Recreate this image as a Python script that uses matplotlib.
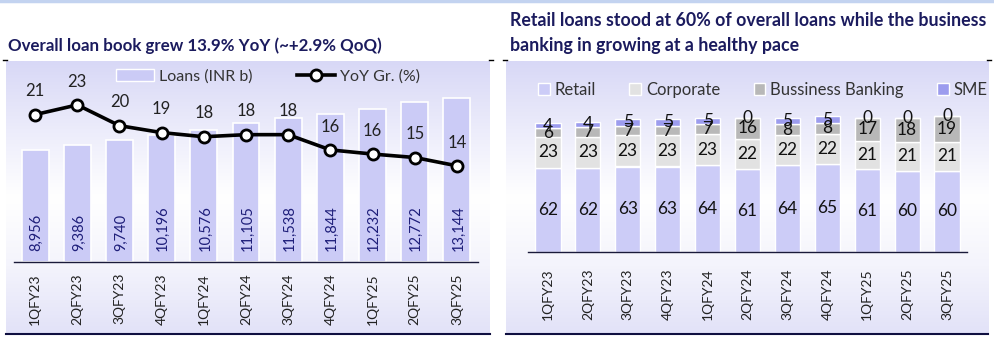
import numpy as np
import matplotlib.pyplot as plt
from matplotlib.colors import LinearSegmentedColormap
from matplotlib.lines import Line2D
from matplotlib.patches import Patch

plt.rcParams['font.family'] = ['Lato', 'DejaVu Sans']

# ---- Datos ----
trimestres = ['1QFY23', '2QFY23', '3QFY23', '4QFY23', '1QFY24', '2QFY24',
              '3QFY24', '4QFY24', '1QFY25', '2QFY25', '3QFY25']
prestamos = [8956, 9386, 9740, 10196, 10576, 11105, 11538, 11844, 12232, 12772, 13144]
crec_yoy = [21.3, 22.7, 19.7, 18.7, 18.1, 18.4, 18.4, 16.2, 15.6, 15.1, 13.9]

retail = [62, 62, 63, 63, 64, 61, 64, 65, 61, 60, 60]
corporate = [23, 23, 23, 23, 23, 22, 22, 22, 21, 21, 21]
bus_banking = [6, 7, 7, 7, 7, 16, 8, 8, 17, 18, 19]
sme = [4, 4, 5, 5, 5, 0, 5, 5, 0, 0, 0]

W, H = 994, 337
fig = plt.figure(figsize=(W / 100, H / 100), dpi=100)
fig.patch.set_facecolor('white')

def caja(x0, y0, x1, y1):
    # convierte pixeles (origen arriba-izquierda) a fraccion de figura
    return [x0 / W, 1 - y1 / H, (x1 - x0) / W, (y1 - y0) / H]

navy = '#1B1B5E'
cmap_fondo = LinearSegmentedColormap.from_list(
    'fondo', ['#D8D8F6', '#ECECFB', '#FFFFFF', '#F4F4FC', '#E2E2F8'])
grad = np.linspace(0, 1, 256).reshape(-1, 1)

# franja azul superior
fig.add_artist(plt.Line2D([0, 1], [1 - 1 / H, 1 - 1 / H], color='#C3D3F0', lw=2.5))

# ---- fondos con degradado ----
for x0, x1 in [(6, 490), (506, 988)]:
    axf = fig.add_axes(caja(x0, 61, x1, 334), zorder=0)
    axf.imshow(grad, aspect='auto', cmap=cmap_fondo, extent=[0, 1, 0, 1], origin='upper')
    axf.axis('off')
    # marcas en las esquinas y linea inferior
    fig.add_artist(plt.Line2D([(x0 - 3) / W, (x0 + 1) / W], [1 - 60 / H] * 2, color='black', lw=1))
    fig.add_artist(plt.Line2D([(x1 - 1) / W, (x1 + 3) / W], [1 - 60 / H] * 2, color='black', lw=1))
    fig.add_artist(plt.Line2D([x0 / W, x1 / W], [1 - 334 / H] * 2, color='#0F0F40', lw=1.5))

# ---- Grafico izquierdo ----
x = np.arange(len(trimestres))
ax1 = fig.add_axes(caja(14, 62, 478, 262), zorder=2)
ax1.set_facecolor('none')
barras = ax1.bar(x, prestamos, width=0.64, color='#CBCBF6', edgecolor='white', linewidth=1.2)
ax1.set_xlim(-0.5, len(x) - 0.5)
ax1.set_ylim(0, 16000)
for i, v in enumerate(prestamos):
    ax1.annotate(f'{v:,}', (i, 0), xytext=(1, 8), textcoords='offset points',
                 rotation=90, ha='center', va='bottom', fontsize=10.5, color='#1E1E7A')
ax1.set_xticks(x)
ax1.set_xticklabels(trimestres, rotation=90, fontsize=10, color='#222222')
ax1.tick_params(axis='x', length=0, pad=8)
ax1.set_yticks([])
for s in ['top', 'right', 'left']:
    ax1.spines[s].set_visible(False)
ax1.spines['bottom'].set_color('#1A1A3A')
ax1.spines['bottom'].set_linewidth(1)

ax2 = ax1.twinx()
ax2.plot(x, crec_yoy, '-o', color='black', lw=2.6, ms=8, mfc='white', mec='black', mew=2)
ax2.set_ylim(0, 28.9)
ax2.axis('off')
for i, v in enumerate(crec_yoy):
    ax2.annotate(f'{v:.0f}', (i, v), xytext=(0, 11), textcoords='offset points',
                 ha='center', va='bottom', fontsize=12, color='#222222')

manejadores = [Patch(facecolor='#CBCBF6', edgecolor='white'),
               Line2D([0], [0], color='black', lw=2.6, marker='o', ms=8, mfc='white', mew=2)]
ax1.legend(manejadores, ['Loans (INR b)', 'YoY Gr. (%)'], ncol=2, frameon=False,
           loc='center', bbox_to_anchor=((268 - 14) / 464, (262 - 76) / 200),
           fontsize=11.5, handlelength=2.4, handleheight=0.8, columnspacing=2.8,
           handletextpad=0.3, labelcolor='#333333')

fig.text(8 / W, 1 - 46 / H, 'Overall loan book grew 13.9% YoY (~+2.9% QoQ)',
         fontsize=12.2, fontweight='bold', color=navy, va='center', ha='left')

# ---- Grafico derecho ----
ax3 = fig.add_axes(caja(528, 62, 967, 252), zorder=2)
ax3.set_facecolor('none')
colores = ['#CCCCF7', '#E2E2E2', '#B8B8B8', '#9C9CEE']
nombres = ['Retail', 'Corporate', 'Bussiness Banking', 'SME']
base = np.zeros(len(x))
for serie, col in zip([retail, corporate, bus_banking, sme], colores):
    b = ax3.bar(x, serie, bottom=base, width=0.63, color=col, edgecolor='white', linewidth=1)
    ax3.bar_label(b, labels=[str(v) for v in serie], label_type='center',
                  fontsize=12.5, color='#111111')
    base += np.array(serie)
ax3.set_xlim(-0.5, len(x) - 0.5)
ax3.set_ylim(0, 140)
ax3.set_xticks(x)
ax3.set_xticklabels(trimestres, rotation=90, fontsize=10, color='#222222')
ax3.tick_params(axis='x', length=0, pad=12)
ax3.set_yticks([])
for s in ['top', 'right', 'left']:
    ax3.spines[s].set_visible(False)
ax3.spines['bottom'].set_color('#1A1A3A')
ax3.spines['bottom'].set_linewidth(1)

manejadores2 = [Patch(facecolor=c, edgecolor='white') for c in colores]
ax3.legend(manejadores2, nombres, ncol=4, frameon=False, loc='center',
           bbox_to_anchor=((763 - 528) / 439, (252 - 90) / 190), fontsize=12,
           handlelength=0.7, handleheight=0.7, handletextpad=0.3, columnspacing=2.0,
           labelcolor='#333333')

fig.text(510 / W, 1 - 20 / H, 'Retail loans stood at 60% of overall loans while the business',
         fontsize=12.8, fontweight='bold', color=navy, va='center', ha='left')
fig.text(510 / W, 1 - 45 / H, 'banking in growing at a healthy pace',
         fontsize=12.8, fontweight='bold', color=navy, va='center', ha='left')

fig.savefig('out.png', dpi=100)
